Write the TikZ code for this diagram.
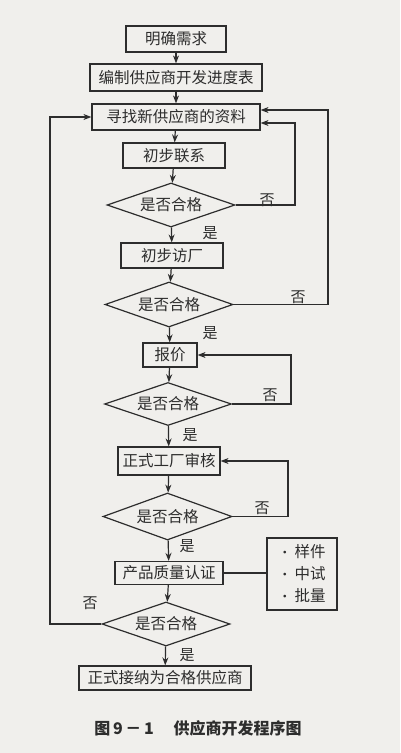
\documentclass[tikz,border=0pt]{standalone}
\usepackage{fontspec}
\setmainfont{Noto Sans CJK SC}
\usetikzlibrary{shapes.geometric,arrows.meta}
\definecolor{bgc}{RGB}{240,239,236}
\definecolor{lc}{RGB}{45,45,45}
\begin{document}
\begin{tikzpicture}[x=1pt,y=-1pt,
  box/.style={draw=lc, line width=1.2pt, rectangle, inner sep=0pt, text=lc, font=\fontsize{15.5}{16}\selectfont},
  dia/.style={draw=lc, line width=1.2pt, diamond, shape aspect=3, inner sep=0pt, text=lc, font=\fontsize{15.5}{16}\selectfont},
  lbl/.style={text=lc, inner sep=0pt, font=\fontsize{15}{15}\selectfont},
  arr/.style={draw=lc, line width=1.2pt, -{Stealth[length=8pt,width=6pt]}},
  ln/.style={draw=lc, line width=1.2pt}]
\fill[bgc] (0,0) rectangle (400,753);
\useasboundingbox (0,0) rectangle (400,753);
\node[box, minimum width=100, minimum height=26] (mq) at (176,39) {明确需求};
\node[box, minimum width=172, minimum height=27] (bz) at (176,77.5) {编制供应商开发进度表};
\node[box, minimum width=168, minimum height=26] (xz) at (176,117) {寻找新供应商的资料};
\node[box, minimum width=102, minimum height=25] (lx) at (174,155.5) {初步联系};
\node[dia, minimum width=128, minimum height=44] (d1) at (171,205) {是否合格};
\node[box, minimum width=102, minimum height=25] (fw) at (172,255.5) {初步访厂};
\node[dia, minimum width=128, minimum height=45] (d2) at (169,304.5) {是否合格};
\node[box, minimum width=54, minimum height=24] (bj) at (170,355) {报价};
\node[dia, minimum width=127, minimum height=43] (d3) at (168,404) {是否合格};
\node[box, minimum width=102, minimum height=28] (sh) at (169,461) {正式工厂审核};
\node[dia, minimum width=129, minimum height=47] (d4) at (167.5,516.5) {是否合格};
\node[box, minimum width=108, minimum height=23] (cp) at (169,573) {产品质量认证};
\node[box, minimum width=70, minimum height=72, align=left, font=\fontsize{15.5}{22}\selectfont] (lst) at (302,574) {{\fontsize{13}{13}\selectfont•}\ 样件\\{\fontsize{13}{13}\selectfont•}\ 中试\\{\fontsize{13}{13}\selectfont•}\ 批量};
\node[dia, minimum width=128, minimum height=44] (d5) at (166,624) {是否合格};
\node[box, minimum width=172, minimum height=24] (js) at (165,678) {正式接纳为合格供应商};
% labels
\node[lbl] (n1) at (267,200) {否};
\node[lbl] (n2) at (298,297) {否};
\node[lbl] (n3) at (270,395) {否};
\node[lbl] (n4) at (262,508) {否};
\node[lbl] (n5) at (90,603) {否};
\node[lbl] (y1) at (210,233) {是};
\node[lbl] (y2) at (210,333) {是};
\node[lbl] (y3) at (190,435) {是};
\node[lbl] (y4) at (187,546) {是};
\node[lbl] (y5) at (187,655) {是};
% caption
\node[text=lc, inner sep=0pt, font=\bfseries\fontsize{16}{17}\selectfont] (cap) at (198,728) {图\,9\,－\,1\quad\ 供应商开发程序图};
% coordinates
\coordinate (p1) at (295,123);
\coordinate (p2) at (328,110);
\coordinate (p3) at (291,380);
\coordinate (p4) at (288,490);
\coordinate (p5) at (50,400);
% main flow
\draw[arr] (mq) -- (bz);
\draw[arr] (bz) -- (xz);
\draw[arr] (xz) -- (lx);
\draw[arr] (lx) -- (d1);
\draw[arr] (d1) -- (fw);
\draw[arr] (fw) -- (d2);
\draw[arr] (d2) -- (bj);
\draw[arr] (bj) -- (d3);
\draw[arr] (d3) -- (sh);
\draw[arr] (sh) -- (d4);
\draw[arr] (d4) -- (cp);
\draw[arr] (cp) -- (d5);
\draw[arr] (d5) -- (js);
\draw[ln] (cp.east) -- (lst.west |- cp.east);
% loops
\draw[arr] (d1.east) -| (p1) -- (xz.east |- p1);
\draw[arr] (d2.east) -| (p2) -- (xz.east |- p2);
\draw[arr] (d3.east) -| (p3) |- (bj.east);
\draw[arr] (d4.east) -| (p4) |- (sh.east);
\draw[arr] (d5.west) -| (p5) |- (xz.west);
\end{tikzpicture}
\end{document}
